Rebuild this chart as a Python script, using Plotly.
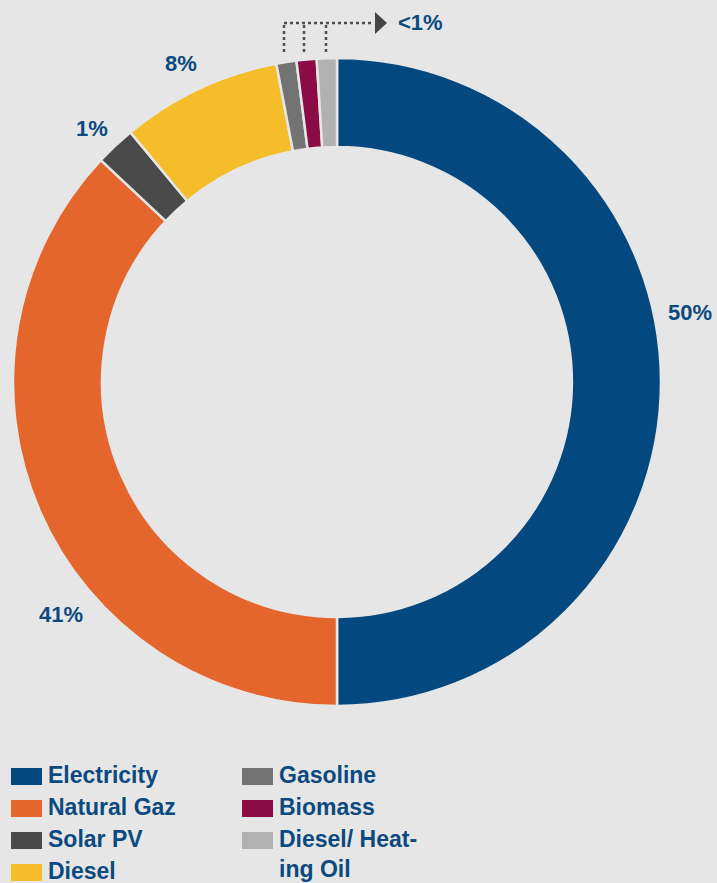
import plotly.graph_objects as go

W, H = 717, 883

categories = ["Electricity", "Natural Gaz", "Solar PV", "Diesel", "Gasoline", "Biomass", "Diesel/ Heating Oil"]
values = [50, 37, 2, 8, 1, 1, 1]
colors = ["#03487f", "#e5662c", "#4a4a4a", "#f4bd29", "#737373", "#8b0b45", "#b1b1b1"]
pct_labels = ["50%", "41%", "1%", "8%", "<1%"]
legend_labels = ["Electricity", "Natural Gaz", "Solar PV", "Diesel",
                 "Gasoline", "Biomass", "Diesel/ Heat-<br>ing Oil"]

BG = "#e6e6e6"
TXT = "#0b4a80"
FONT = "Liberation Sans, Arial, sans-serif"


def px(x):
    return x / W


def py(y):
    return 1 - y / H


fig = go.Figure()
fig.add_trace(go.Pie(
    labels=categories, values=values, hole=0.725, sort=False,
    direction="clockwise", rotation=0,
    marker=dict(colors=colors, line=dict(color=BG, width=2.5)),
    textinfo="none", hoverinfo="label+percent", showlegend=False,
    domain=dict(x=[px(13), px(661)], y=[py(707), py(57)]),
))

annotations = []
shapes = []

# percentage labels
label_pos = [(690, 312), (61, 614), (92, 128), (181, 64), (420, 22)]
for t, (x, y) in zip(pct_labels, label_pos):
    annotations.append(dict(x=px(x), y=py(y), xref="paper", yref="paper", text="<b>%s</b>" % t,
                            showarrow=False, xanchor="center", yanchor="middle",
                            font=dict(family=FONT, size=22, color=TXT)))

# dotted connector for <1%
dot = dict(color="#4f4f4f", width=2.5, dash="dot")
for x in [284, 304, 326]:
    shapes.append(dict(type="line", xref="paper", yref="paper", x0=px(x), x1=px(x),
                       y0=py(52), y1=py(23), line=dot))
shapes.append(dict(type="line", xref="paper", yref="paper", x0=px(284), x1=px(374),
                   y0=py(23), y1=py(23), line=dot))
shapes.append(dict(type="path", xref="paper", yref="paper",
                   path="M %f %f L %f %f L %f %f Z" % (px(375), py(12), px(387), py(23), px(375), py(34)),
                   fillcolor="#454545", line=dict(width=0)))

# custom legend
leg_pos = [(11, 768), (11, 800), (11, 832), (11, 864), (242, 768), (242, 800), (242, 832)]
for lab, col, (x, y) in zip(legend_labels, colors, leg_pos):
    shapes.append(dict(type="rect", xref="paper", yref="paper", x0=px(x), x1=px(x + 31),
                       y0=py(y + 17), y1=py(y), fillcolor=col, line=dict(width=0)))
    annotations.append(dict(x=px(x + 35), y=py(y - 8), xref="paper", yref="paper",
                            text="<b>%s</b>" % lab, showarrow=False, xanchor="left", yanchor="top",
                            align="left",
                            font=dict(family=FONT, size=23, color=TXT)))

fig.update_layout(
    width=W, height=H, margin=dict(l=0, r=0, t=0, b=0),
    paper_bgcolor=BG, plot_bgcolor=BG,
    shapes=shapes, annotations=annotations,
)
fig.write_html("out.html", config={"displayModeBar": False},
               post_script="document.body.style.margin='0';document.body.style.padding='0';"
                           "document.body.style.overflow='hidden';document.body.style.background='%s';" % BG)
